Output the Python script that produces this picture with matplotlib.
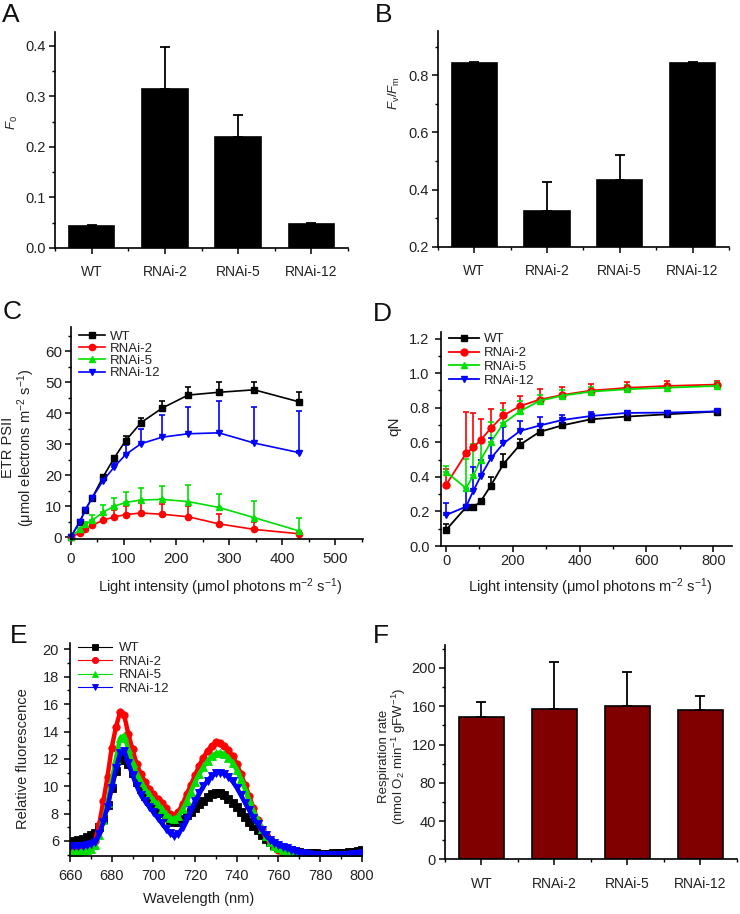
import numpy as np
import matplotlib
matplotlib.use("Agg")
import matplotlib.pyplot as plt
from matplotlib.ticker import MultipleLocator

plt.rcParams['font.family'] = 'Liberation Sans'
plt.rcParams['mathtext.fontset'] = 'custom'
plt.rcParams['mathtext.rm'] = 'Liberation Sans'
plt.rcParams['mathtext.it'] = 'Liberation Sans:italic'
plt.rcParams['text.color'] = '#222222'
plt.rcParams['axes.labelcolor'] = '#222222'
plt.rcParams['xtick.labelcolor'] = '#222222'
plt.rcParams['ytick.labelcolor'] = '#222222'

# Genotypes
genotypes = ["WT", "RNAi-2", "RNAi-5", "RNAi-12"]
colors = ["black", "#ff0000", "#00e000", "#0000ff"]
markers = ["s", "o", "^", "v"]

# A: F0
f0 = [0.043, 0.315, 0.219, 0.047]
f0_err = [0.002, 0.082, 0.043, 0.002]

# B: Fv/Fm
fvfm = [0.843, 0.325, 0.434, 0.842]
fvfm_err = [0.005, 0.101, 0.088, 0.004]

# C: ETR PSII light curves
light_c = [0, 17, 28, 41, 61, 82, 104, 133, 173, 222, 280, 347, 432]
etr_wt = [0, 4.9, 8.9, 12.8, 19.4, 25.5, 31.2, 37.0, 41.7, 45.9, 46.8, 47.6, 43.7]
etr_wt_err = [0, 0.3, 0.4, 0.5, 0.6, 0.8, 1.5, 1.4, 2.3, 2.6, 3.2, 2.4, 3.3]
etr_r2 = [0, 1.3, 2.6, 3.8, 5.5, 6.5, 7.3, 7.8, 7.4, 6.6, 4.3, 2.5, 1.1]
etr_r2_err = [0, 0.3, 0.5, 1.0, 1.5, 2.2, 2.9, 3.7, 3.4, 3.4, 3.1, 2.3, 0.9]
etr_r5 = [0, 2.5, 4.2, 5.5, 8.0, 10.0, 11.2, 12.0, 12.2, 11.5, 9.6, 6.3, 2.0]
etr_r5_err = [0, 0.3, 0.6, 1.5, 2.3, 2.8, 3.4, 4.0, 4.2, 5.5, 4.4, 5.3, 4.1]
etr_r12 = [0, 4.9, 8.9, 12.8, 18.2, 22.6, 26.7, 30.2, 32.3, 33.4, 33.7, 30.4, 27.3]
etr_r12_err = [0, 0.3, 0.4, 0.5, 0.6, 1.5, 3.1, 4.7, 7.3, 8.7, 10.2, 11.7, 13.4]

# D: qN light curves
light_d = [0, 60, 82, 104, 134, 172, 222, 280, 348, 433, 541, 661, 810]
qn_wt = [0.093, 0.224, 0.224, 0.259, 0.349, 0.475, 0.587, 0.660, 0.698, 0.733, 0.749, 0.762, 0.778]
qn_wt_err = [0.034, 0.01, 0.01, 0.01, 0.05, 0.055, 0.033, 0.012, 0.01, 0.01, 0.008, 0.008, 0.008]
qn_r2 = [0.353, 0.536, 0.571, 0.614, 0.681, 0.756, 0.81, 0.847, 0.874, 0.899, 0.915, 0.926, 0.934]
qn_r2_err = [0.09, 0.24, 0.20, 0.12, 0.11, 0.07, 0.058, 0.06, 0.048, 0.041, 0.035, 0.029, 0.023]
qn_r5 = [0.43, 0.334, 0.41, 0.50, 0.60, 0.71, 0.78, 0.84, 0.87, 0.893, 0.907, 0.916, 0.926]
qn_r5_err = [0.035, 0.17, 0.18, 0.12, 0.12, 0.077, 0.06, 0.034, 0.033, 0.025, 0.023, 0.024, 0.024]
qn_r12 = [0.179, 0.228, 0.32, 0.405, 0.507, 0.594, 0.666, 0.697, 0.729, 0.752, 0.77, 0.772, 0.779]
qn_r12_err = [0.07, 0.09, 0.135, 0.095, 0.12, 0.096, 0.059, 0.048, 0.029, 0.022, 0.01, 0.01, 0.01]

# E: 77K fluorescence spectra (660-800 nm, 2 nm steps)
wavelength = np.arange(660, 801, 2)
spec_wt = [5.95, 6.0, 6.05, 6.15, 6.25, 6.4, 6.6, 7.0, 7.6, 8.6,
           9.9, 11.1, 11.9, 12.1, 11.6, 11.0, 10.3, 9.8, 9.3, 8.9,
           8.6, 8.3, 8.05, 7.75, 7.5, 7.35, 7.4, 7.6, 7.9, 8.15,
           8.4, 8.7, 8.95, 9.2, 9.4, 9.5, 9.5, 9.35, 9.1, 8.8,
           8.45, 8.1, 7.75, 7.4, 7.1, 6.8, 6.45, 6.15, 5.9, 5.7,
           5.55, 5.45, 5.35, 5.3, 5.25, 5.2, 5.15, 5.1, 5.1, 5.08,
           5.05, 5.05, 5.05, 5.08, 5.1, 5.12, 5.15, 5.2, 5.22, 5.25,
           5.3]
spec_r2 = [5.4, 5.4, 5.45, 5.5, 5.55, 5.65, 6.0, 7.2, 8.9, 10.7,
           12.8, 14.3, 15.4, 15.2, 13.8, 12.7, 11.6, 10.9, 10.3, 9.8,
           9.4, 9.1, 8.8, 8.4, 7.95, 7.85, 8.1, 8.7, 9.4, 10.1,
           10.8, 11.5, 12.1, 12.6, 12.95, 13.2, 13.15, 12.95, 12.65, 12.2,
           11.6, 10.9, 10.1, 9.3, 8.4, 7.5, 6.9, 6.4, 6.0, 5.6,
           5.35, 5.15, 5.0, 4.88, 4.8, 4.75, 4.72, 4.7, 4.7, 4.7,
           4.7, 4.7, 4.7, 4.7, 4.7, 4.7, 4.7, 4.7, 4.7, 4.7,
           4.7]
spec_r5 = [5.2, 5.2, 5.22, 5.25, 5.3, 5.4, 5.7, 6.4, 7.5, 8.8,
           10.4, 12.0, 13.5, 13.7, 12.7, 11.7, 10.9, 10.3, 9.8, 9.4,
           9.0, 8.7, 8.35, 8.0, 7.7, 7.6, 7.8, 8.3, 8.9, 9.6,
           10.3, 10.9, 11.4, 11.85, 12.2, 12.4, 12.45, 12.35, 12.1, 11.7,
           11.2, 10.5, 9.8, 9.0, 8.2, 7.5, 6.85, 6.35, 5.95, 5.65,
           5.45, 5.3, 5.15, 5.05, 5.0, 4.95, 4.92, 4.9, 4.88, 4.88,
           4.88, 4.88, 4.88, 4.88, 4.88, 4.88, 4.88, 4.88, 4.9, 4.9,
           4.92]
spec_r12 = [5.6, 5.6, 5.6, 5.62, 5.68, 5.75, 5.95, 6.5, 7.4, 8.5,
            9.9, 11.3, 12.4, 12.6, 11.7, 10.8, 10.0, 9.35, 8.9, 8.5,
            8.1, 7.7, 7.3, 6.9, 6.55, 6.35, 6.5, 7.0, 7.6, 8.25,
            8.9, 9.5, 10.0, 10.4, 10.75, 10.95, 11.0, 10.9, 10.7, 10.35,
            9.9, 9.35, 8.8, 8.25, 7.7, 7.25, 6.8, 6.4, 6.1, 5.85,
            5.7, 5.55, 5.45, 5.35, 5.25, 5.15, 5.08, 5.02, 5.0, 4.98,
            4.96, 4.95, 4.95, 4.95, 4.95, 4.96, 4.98, 5.0, 5.03, 5.07,
            5.12]

# F: respiration
resp = [149, 157, 160, 156]
resp_err = [15, 49, 36, 15]

fig = plt.figure(figsize=(7.4, 9.14), dpi=100)


def style_axes(ax, lw=1.2):
    for s in ["top", "right"]:
        ax.spines[s].set_visible(False)
    for s in ["left", "bottom"]:
        ax.spines[s].set_linewidth(lw)
    ax.tick_params(which="major", direction="out", length=4.5, width=1.1, labelsize=10)
    ax.tick_params(which="minor", direction="out", length=2.5, width=1.0)


def bar_panel(rect, vals, errs, ylim, major, minor, color):
    ax = fig.add_axes(rect)
    x = np.arange(len(genotypes))
    ax.bar(x, vals, width=0.62, color=color, edgecolor="black", linewidth=1.2, zorder=2)
    ax.errorbar(x, vals, yerr=[np.zeros(len(errs)), errs], fmt="none", ecolor="black",
                elinewidth=1.3, capsize=3.5, capthick=1.3, zorder=3)
    ax.set_xlim(-0.5, 3.5)
    ax.set_ylim(*ylim)
    ax.set_xticks(x)
    ax.set_xticklabels(genotypes, fontsize=9.5)
    ax.xaxis.set_minor_locator(MultipleLocator(0.5))
    ax.yaxis.set_major_locator(MultipleLocator(major))
    ax.yaxis.set_minor_locator(MultipleLocator(minor))
    style_axes(ax)
    ax.tick_params(axis="x", which="major", pad=8)
    ax.tick_params(axis="y", labelsize=10.5, pad=2)
    return ax


# Panel A
axA = bar_panel([0.0743, 0.7287, 0.396, 0.2363], f0, f0_err, (0, 0.427), 0.1, 0.05, "black")
axA.set_yticks([0.0, 0.1, 0.2, 0.3, 0.4])
axA.set_yticklabels(["0.0", "0.1", "0.2", "0.3", "0.4"])
axA.set_ylabel("$F_0$", fontsize=9.5)
axA.yaxis.set_label_coords(-0.119, 0.58)

# Panel B
axB = bar_panel([0.5915, 0.7301, 0.3936, 0.236], fvfm, fvfm_err, (0.2, 0.955), 0.2, 0.1, "black")
axB.set_yticks([0.2, 0.4, 0.6, 0.8])
axB.set_yticklabels(["0.2", "0.4", "0.6", "0.8"])
axB.set_ylabel("$F_\\mathrm{v}/F_\\mathrm{m}$", fontsize=9.5)
axB.yaxis.set_label_coords(-0.123, 0.71)

# Panel C
axC = fig.add_axes([0.0955, 0.4106, 0.3954, 0.232])
c_series = [(etr_wt, etr_wt_err), (etr_r2, etr_r2_err), (etr_r5, etr_r5_err), (etr_r12, etr_r12_err)]
for (vals, errs), col, mk, lab in zip(c_series, colors, markers, genotypes):
    axC.errorbar(light_c, vals, yerr=[np.zeros(len(errs)), errs], color=col, marker=mk,
                 markersize=4.5, linewidth=1.2, elinewidth=1.2, capsize=2.3, capthick=1.2,
                 label=lab, clip_on=False)
axC.set_xlim(0, 553)
axC.set_ylim(-0.5, 68)
axC.xaxis.set_major_locator(MultipleLocator(100))
axC.xaxis.set_minor_locator(MultipleLocator(50))
axC.yaxis.set_major_locator(MultipleLocator(10))
axC.yaxis.set_minor_locator(MultipleLocator(5))
style_axes(axC)
axC.tick_params(labelsize=11)
axC.tick_params(axis="y", pad=1.5)
axC.tick_params(axis="x", pad=5)
axC.set_ylabel("ETR PSII\n(\u03bcmol electrons m$^{-2}$ s$^{-1}$)", fontsize=10.5, linespacing=1.0)
axC.yaxis.set_label_coords(-0.115, 0.43)
axC.set_xlabel("Light intensity (\u03bcmol photons m$^{-2}$ s$^{-1}$)", fontsize=10.5)
axC.xaxis.set_label_coords(0.51, -0.18)
hC, lC = axC.get_legend_handles_labels()
axC.legend([h[0] for h in hC], lC, loc="upper left", bbox_to_anchor=(0.0, 1.02), frameon=False,
           fontsize=9.5, labelspacing=0.0, handlelength=2.0, handletextpad=0.4, borderaxespad=0.2)

# Panel D
axD = fig.add_axes([0.5955, 0.4026, 0.3932, 0.2345])
d_series = [(qn_wt, qn_wt_err), (qn_r2, qn_r2_err), (qn_r5, qn_r5_err), (qn_r12, qn_r12_err)]
for (vals, errs), col, mk, lab in zip(d_series, colors, markers, genotypes):
    axD.errorbar(light_d, vals, yerr=[np.zeros(len(errs)), errs], color=col, marker=mk,
                 markersize=5, linewidth=1.3, elinewidth=1.2, capsize=2.3, capthick=1.2,
                 label=lab)
axD.set_xlim(-16, 855)
axD.set_ylim(0, 1.24)
axD.xaxis.set_major_locator(MultipleLocator(200))
axD.xaxis.set_minor_locator(MultipleLocator(100))
axD.yaxis.set_major_locator(MultipleLocator(0.2))
axD.yaxis.set_minor_locator(MultipleLocator(0.1))
axD.yaxis.set_major_formatter(plt.FormatStrFormatter("%.1f"))
style_axes(axD)
axD.tick_params(labelsize=10.5)
axD.tick_params(axis="x", pad=1.5)
axD.set_ylabel("qN", fontsize=11)
axD.yaxis.set_label_coords(-0.134, 0.56)
axD.set_xlabel("Light intensity (\u03bcmol photons m$^{-2}$ s$^{-1}$)", fontsize=10.5)
axD.xaxis.set_label_coords(0.513, -0.143)
hD, lD = axD.get_legend_handles_labels()
axD.legend([h[0] for h in hD], lD, loc="upper left", bbox_to_anchor=(0.0, 1.03), frameon=False,
           fontsize=9.5, labelspacing=0.12, handlelength=2.3, handletextpad=0.4, borderaxespad=0.2)

# Panel E
axE = fig.add_axes([0.0946, 0.0635, 0.3942, 0.2334])
spectra = [spec_wt, spec_r2, spec_r5, spec_r12]
for vals, col, mk, lab in zip(spectra, colors, markers, genotypes):
    axE.plot(wavelength, vals, color=col, marker=mk, markersize=5.3, linewidth=3.2,
             markeredgewidth=0.6, label=lab)
axE.set_xlim(660, 800)
axE.set_ylim(4.9, 20.5)
axE.xaxis.set_major_locator(MultipleLocator(20))
axE.xaxis.set_minor_locator(MultipleLocator(10))
axE.yaxis.set_major_locator(MultipleLocator(2))
axE.yaxis.set_minor_locator(MultipleLocator(1))
style_axes(axE)
axE.tick_params(labelsize=10.5)
axE.tick_params(axis="x", pad=5)
axE.set_yticks([6, 8, 10, 12, 14, 16, 18, 20])
axE.set_ylabel("Relative fluorescence", fontsize=10.5)
axE.yaxis.set_label_coords(-0.137, 0.455)
axE.set_xlabel("Wavelength (nm)", fontsize=10.5)
axE.xaxis.set_label_coords(0.44, -0.167)
hE, lE = axE.get_legend_handles_labels()
legE = axE.legend(hE, lE, loc="upper left", bbox_to_anchor=(0.0, 1.04), frameon=False,
                  fontsize=9.5, labelspacing=0.1, handlelength=2.6, handletextpad=0.5,
                  borderaxespad=0.2)
for ln in legE.get_lines():
    ln.set_linewidth(0.8)
    ln.set_markersize(4.5)

# Panel F
axF = bar_panel([0.6014, 0.0598, 0.3942, 0.2345], resp, resp_err, (0, 224), 40, 20, "#800000")
axF.set_ylabel("Respiration rate\n(nmol O$_2$ min$^{-1}$ gFW$^{-1}$)", fontsize=9.5, linespacing=1.0)
axF.yaxis.set_label_coords(-0.127, 0.48)
axF.tick_params(axis="y", labelsize=10.5)

# Panel letters
for lab, x, y in [("A", 0.003, 0.976), ("B", 0.507, 0.976), ("C", 0.003, 0.651),
                  ("D", 0.504, 0.649), ("E", 0.014, 0.296), ("F", 0.504, 0.296)]:
    fig.text(x, y, lab, fontsize=19, color="#111111", ha="left", va="baseline")

fig.savefig("out.png", dpi=100)
